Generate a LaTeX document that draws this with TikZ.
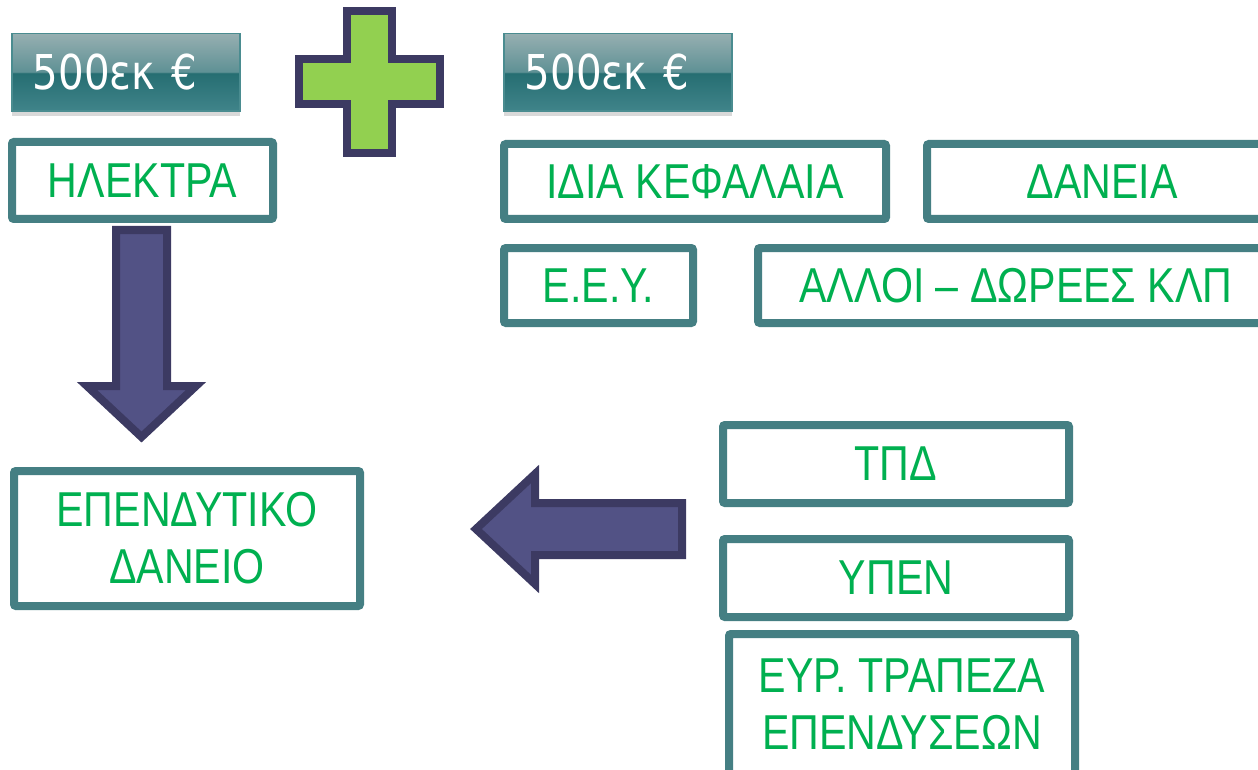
\documentclass[tikz,border=0pt]{standalone}
\usepackage{fontspec}
\setmainfont{Liberation Sans}[FakeStretch=0.84]
\newfontfamily\btnfont{DejaVu Sans}[FakeStretch=0.84]
\usetikzlibrary{positioning,shadows}

\definecolor{tealline}{RGB}{69,127,131}
\definecolor{boxgreen}{RGB}{0,176,80}
\definecolor{navyline}{RGB}{60,58,98}
\definecolor{arrowfill}{RGB}{82,82,133}
\definecolor{plusgreen}{RGB}{146,208,80}
\definecolor{btntop}{RGB}{150,175,177}
\definecolor{btnmid}{RGB}{95,145,149}
\definecolor{btndark}{RGB}{38,110,114}
\definecolor{btnbot}{RGB}{64,132,138}
\definecolor{btnedge}{RGB}{74,140,144}

\pgfdeclareverticalshading{btnshade}{100bp}{color(0bp)=(btnbot); color(25bp)=(btnbot); color(49.5bp)=(btndark); color(50.5bp)=(btnmid); color(75bp)=(btntop); color(100bp)=(btntop)}

\tikzset{
  money/.style={draw=btnedge, line width=1.5pt, shade, shading=btnshade,
    drop shadow={shadow xshift=0pt, shadow yshift=-5pt, opacity=0.3},
    minimum height=77.5pt, text width=186pt, inner xsep=21pt, inner ysep=0pt,
    align=left, text=white, font=\btnfont\fontsize{48}{50}\selectfont},
  srcbox/.style={draw=tealline, line width=8pt, rounded corners=2pt, fill=white,
    text=boxgreen, align=center, inner sep=0pt, font=\fontsize{49}{57}\selectfont},
  plusshape/.style={draw=navyline, fill=plusgreen, line width=8pt, line join=miter},
  blockarrow/.style={draw=navyline, fill=arrowfill, line width=8pt, line join=miter},
}

\begin{document}
\begin{tikzpicture}[x=1pt,y=1pt]
  \useasboundingbox (0,0) rectangle (1258,-770);

  % amounts
  \node[money, anchor=north west] (m1) at (11,-33) {500εκ €};
  \node[money, anchor=north west] (m2) at (503,-33) {500εκ €};

  % sources
  \node[srcbox, minimum width=261pt, minimum height=77pt, anchor=north west] (e1) at (8,-138) {ΗΛΕΚΤΡΑ};
  \node[srcbox, minimum width=382pt, minimum height=75pt, anchor=north west] (s1) at (500,-140) {ΙΔΙΑ ΚΕΦΑΛΑΙΑ};
  \node[srcbox, minimum width=350pt, minimum height=75pt, right=33pt of s1] (s2) {ΔΑΝΕΙΑ};
  \node[srcbox, minimum width=189pt, minimum height=75pt, below=21pt of s1.south west, anchor=north west] (s3) {Ε.Ε.Υ.};
  \node[srcbox, minimum width=516pt, minimum height=75pt, right=57pt of s3] (s4) {ΑΛΛΟΙ – ΔΩΡΕΕΣ ΚΛΠ};

  % loan and lenders
  \node[srcbox, minimum width=346pt, minimum height=135pt, anchor=north west] (d1) at (10,-467) {ΕΠΕΝΔΥΤΙΚΟ\\ΔΑΝΕΙΟ};
  \node[srcbox, minimum width=346pt, minimum height=78pt, anchor=north west] (r1) at (719,-421) {ΤΠΔ};
  \node[srcbox, minimum width=346pt, minimum height=78pt, below=28pt of r1] (r2) {ΥΠΕΝ};
  \node[srcbox, minimum width=346pt, minimum height=140pt, below=9pt of r2.south west, anchor=north west, xshift=6pt] (r3) {ΕΥΡ. ΤΡΑΠΕΖΑ\\ΕΠΕΝΔΥΣΕΩΝ};

  % plus
  \draw[plusshape] (347,-11) -- (392,-11) -- (392,-59) -- (440,-59) -- (440,-104) -- (392,-104)
    -- (392,-153) -- (347,-153) -- (347,-104) -- (299,-104) -- (299,-59) -- (347,-59) -- cycle;

  % block arrows
  \draw[blockarrow] (116,-230) -- (167,-230) -- (167,-386) -- (196,-386) -- (141.5,-437)
    -- (87,-386) -- (116,-386) -- cycle;
  \draw[blockarrow] (682,-503) -- (682,-555) -- (535,-555) -- (535,-584) -- (476,-529)
    -- (535,-474) -- (535,-503) -- cycle;
\end{tikzpicture}
\end{document}
